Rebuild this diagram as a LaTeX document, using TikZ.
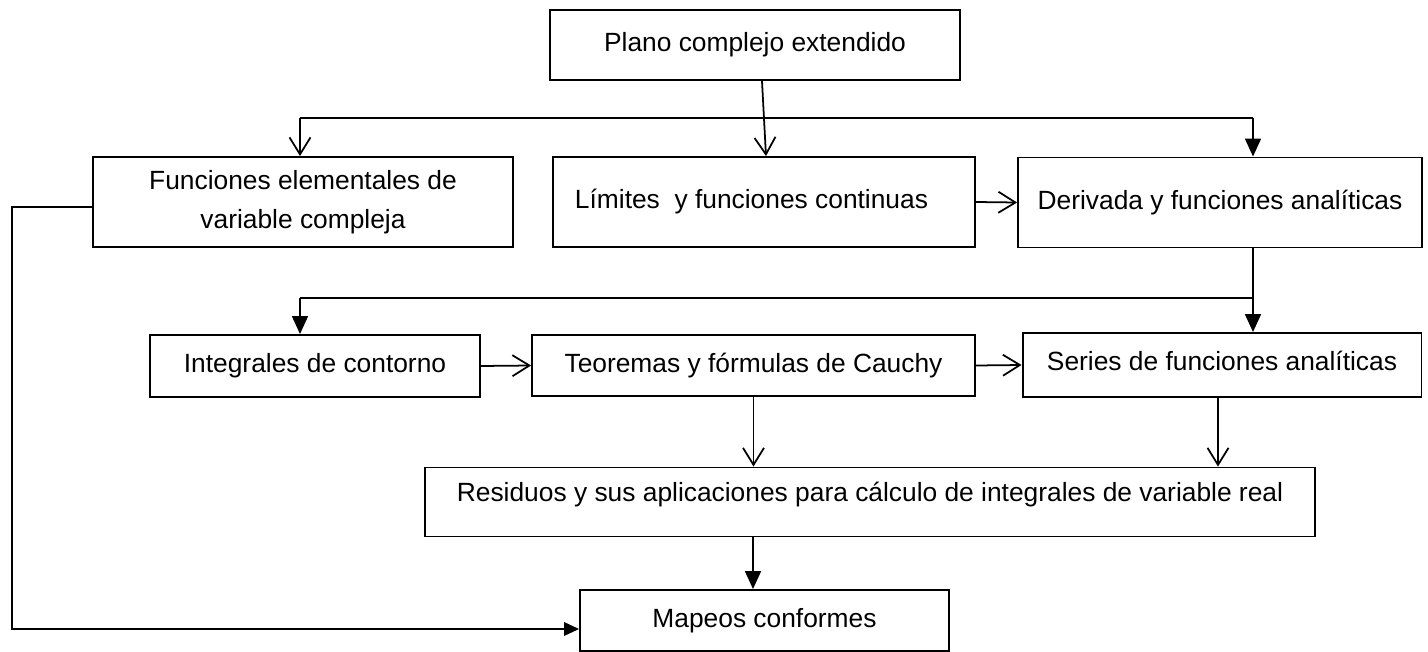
\documentclass[tikz,border=0pt]{standalone}
\usepackage{fontspec}
\setmainfont{Liberation Sans}
\usepackage{tikz}
\usetikzlibrary{arrows.meta}
\usetikzlibrary{positioning}
\tikzset{%
  topicbox/.style={rectangle,draw,line width=1.1pt,inner sep=2pt,align=center,font=\fontsize{15}{22}\selectfont}
}
\tikzset{%
  link/.style={line width=1pt},
  buslink/.style={line width=0.7pt},
  openarr/.style={link,-{Straight Barb[length=0.34cm,width=0.42cm]}},
  fillarr/.style={link,-{Triangle[length=0.36cm,width=0.32cm]}},
  fillarrsm/.style={link,-{Triangle[length=0.3cm,width=0.27cm]}}
}

\begin{document}
\begin{tikzpicture}[x=0.02cm,y=-0.02cm]
            \useasboundingbox (0,0) rectangle (1428,652);

            \node[topicbox,minimum width=8.2cm,minimum height=1.4cm](plano) at (755,45) {Plano complejo extendido};

            \node[topicbox,minimum width=8.4cm,minimum height=1.8cm](funciones) at (303,202) {Funciones elementales de\\variable compleja};
            \node[topicbox,minimum width=8.44cm,minimum height=1.8cm](limites) at (764,202) {L\'{\i}mites~~y funciones continuas\hspace{0.5cm}};
            \node[topicbox,minimum width=8.08cm,minimum height=1.8cm](derivada) at (1220,202.5) {Derivada y funciones anal\'{\i}ticas};

            \node[topicbox,minimum width=6.6cm,minimum height=1.24cm](integrales) at (315,366) {Integrales de contorno};
            \node[topicbox,minimum width=8.86cm,minimum height=1.22cm](teoremas) at (753.5,365.5) {Teoremas y f\'ormulas de Cauchy};
            \node[topicbox,minimum width=7.98cm,minimum height=1.28cm,text depth=0.16cm](series) at (1222,365) {Series de funciones anal\'{\i}ticas};

            \node[topicbox,minimum width=17.8cm,minimum height=1.38cm,text depth=0.4cm](residuos) at (870,502) {Residuos y sus aplicaciones para c\'alculo de integrales de variable real};
            \node[topicbox,minimum width=7.38cm,minimum height=1.22cm](mapeos) at (764.5,620.5) {Mapeos conformes};

            \coordinate (topL) at (300,118);
            \coordinate (topR) at (1253,118);
            \coordinate (midL) at (300,298);
            \coordinate (midR) at (1253,298);
            \coordinate (loop) at (12,629);

            \draw[buslink] (topL) -- (topR);
            \draw[openarr] (topL) -- (topL |- funciones.north);
            \draw[openarr] ([xshift=0.14cm]plano.south) -- ([xshift=0.04cm]limites.north);
            \draw[fillarr] (topR) -- (topR |- derivada.north);

            \draw[openarr] (limites.east) -- (derivada.west);

            \draw[buslink] (midR |- derivada.south) -- (midR) -- (midL);
            \draw[fillarr] (midL) -- (midL |- integrales.north);
            \draw[fillarr] (midR) -- (midR |- series.north);

            \draw[openarr] (integrales.east) -- (teoremas.west);
            \draw[openarr] (teoremas.east) -- (series.west);

            \draw[openarr] (teoremas.south) -- (teoremas.south |- residuos.north);
            \draw[openarr] ([xshift=-0.08cm]series.south) -- ([xshift=-0.08cm]series.south |- residuos.north);
            \draw[fillarr] ([xshift=-0.23cm]mapeos.north |- residuos.south) -- ([xshift=-0.23cm]mapeos.north);

            \draw[fillarrsm] ([yshift=-0.1cm]funciones.west) -| (loop) -- (loop -| mapeos.west);
\end{tikzpicture}
\end{document}
